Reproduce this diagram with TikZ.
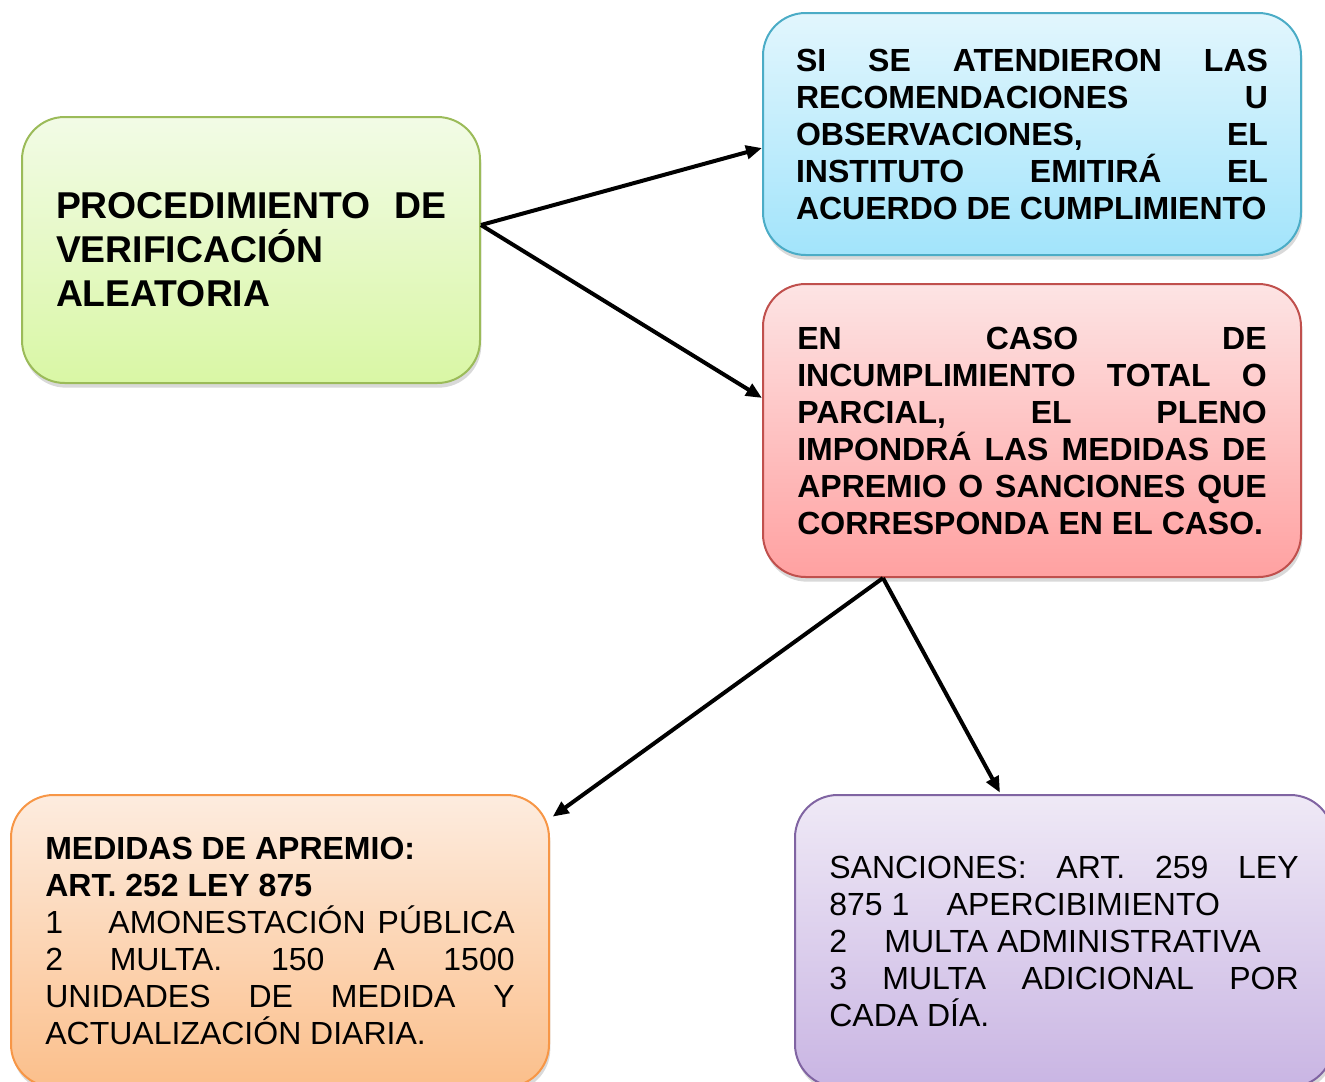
\documentclass[tikz,border=0pt]{standalone}
\usepackage{fontspec}
\setmainfont{Liberation Sans}
\usetikzlibrary{arrows.meta,shadows}

\definecolor{greenTop}{HTML}{F2FBE6}
\definecolor{greenBot}{HTML}{D9F7A5}
\definecolor{greenLine}{HTML}{9BBB59}
\definecolor{blueTop}{HTML}{E2F6FD}
\definecolor{blueBot}{HTML}{A2E4FB}
\definecolor{blueLine}{HTML}{4BACC6}
\definecolor{redTop}{HTML}{FDE4E4}
\definecolor{redBot}{HTML}{FFA1A1}
\definecolor{redLine}{HTML}{C0504D}
\definecolor{orangeTop}{HTML}{FDECDF}
\definecolor{orangeBot}{HTML}{FBBF8B}
\definecolor{orangeLine}{HTML}{F79646}
\definecolor{purpleTop}{HTML}{EFE9F6}
\definecolor{purpleBot}{HTML}{C9B5E3}
\definecolor{purpleLine}{HTML}{8064A2}

\tolerance=10000
\hyphenpenalty=10000
\exhyphenpenalty=10000

\tikzset{
	box/.style={rectangle, rounded corners=32pt, line width=1.5pt, inner sep=0pt,
		align=justify, minimum width=403.5pt,
		drop shadow={shadow xshift=1pt, shadow yshift=-3.5pt, opacity=0.3}},
	bigtext/.style={font=\fontsize{24}{27.75}\selectfont},
	bigbold/.style={font=\fontsize{24}{27.75}\selectfont\bfseries},
	link/.style={line width=3pt, -{Triangle[length=12pt,width=10pt]}}
}

\begin{document}
\begin{tikzpicture}[x=0.75pt, y=-0.75pt]
		
		\useasboundingbox (0,0) rectangle (1325,1082);
		\clip (0,0) rectangle (1325,1082);
		
		% Node
		
		\node[box, draw=greenLine, top color=greenTop, bottom color=greenBot,
		minimum width=343.5pt, minimum height=199.5pt, text width=292.5pt,
		font=\fontsize{28}{33}\selectfont\bfseries]
		(proc) at (251,250) {PROCEDIMIENTO DE\linebreak VERIFICACIÓN\\ ALEATORIA};
		
		\node[box, bigbold, draw=blueLine, top color=blueTop, bottom color=blueBot,
		minimum height=181.5pt, text width=354pt]
		(cumple) at (1032,134) {SI SE ATENDIERON LAS\linebreak RECOMENDACIONES U\linebreak OBSERVACIONES, EL\linebreak INSTITUTO EMITIRÁ EL\linebreak ACUERDO DE CUMPLIMIENTO};
		
		\node[box, bigbold, draw=redLine, top color=redTop, bottom color=redBot,
		minimum height=219.75pt, text width=352pt]
		(incumple) at (1032,430.5) {EN CASO DE\linebreak INCUMPLIMIENTO TOTAL O\linebreak PARCIAL, EL PLENO\linebreak IMPONDRÁ LAS MEDIDAS DE\linebreak APREMIO O SANCIONES QUE\linebreak CORRESPONDA EN EL CASO.};
		
		\node[box, bigtext, draw=orangeLine, top color=orangeTop, bottom color=orangeBot,
		minimum height=219pt, text width=352pt]
		(apremio) at (280,941) {\textbf{MEDIDAS DE APREMIO:}\\ \textbf{ART. 252 LEY 875}\\ 1\hspace{34pt}AMONESTACIÓN PÚBLICA\linebreak 2\hspace{35pt}MULTA. 150 A 1500\linebreak UNIDADES DE MEDIDA Y\linebreak ACTUALIZACIÓN DIARIA.};
		
		\node[box, bigtext, draw=purpleLine, top color=purpleTop, bottom color=purpleBot,
		minimum height=219pt, text width=352pt]
		(sancion) at (1064,941) {SANCIONES: ART. 259 LEY\linebreak 875 1\hspace{28pt}APERCIBIMIENTO\\ 2\hspace{28pt}MULTA ADMINISTRATIVA\\ 3 MULTA ADICIONAL POR\linebreak CADA DÍA.};
		
		% EDGE
		
		\draw[link] ([yshift=18.75pt]proc.east) -- ([yshift=-10.5pt]cumple.west);
		\draw[link] ([yshift=18.75pt]proc.east) -- ([yshift=24.4pt]incumple.west);
		
		\draw[link] ([xshift=-111.75pt]incumple.south) -- ([xshift=2pt,yshift=-17pt]apremio.north east);
		\draw[link] ([xshift=-111.75pt]incumple.south) -- ([xshift=-48pt,yshift=1pt]sancion.north);
		
\end{tikzpicture}
\end{document}
